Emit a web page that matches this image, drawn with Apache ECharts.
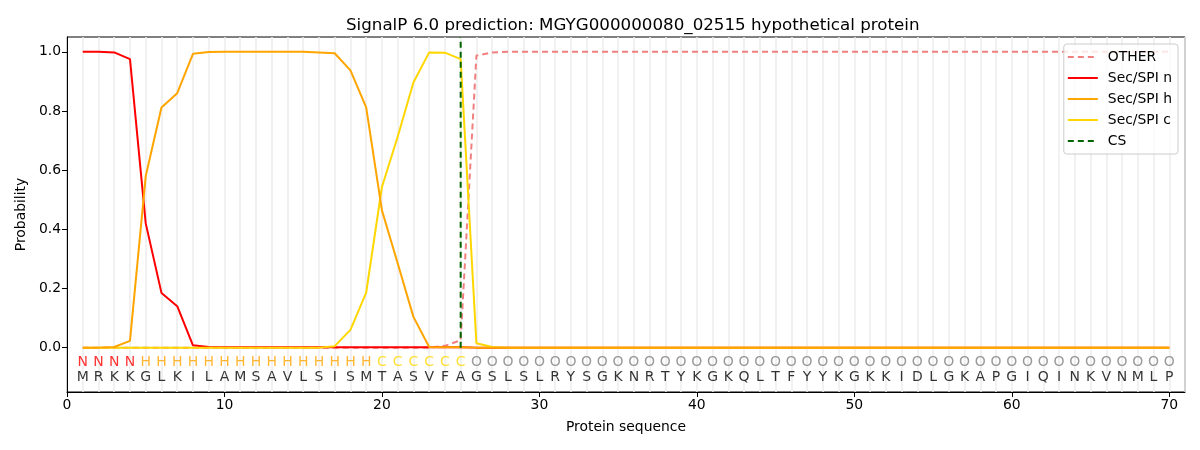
<!DOCTYPE html>
<html>
<head>
<meta charset="utf-8">
<script src="https://cdn.jsdelivr.net/npm/echarts@6/dist/echarts.min.js"></script>
<style>html,body{margin:0;padding:0;background:#fff;}#c{width:1200px;height:450px;}</style>
</head>
<body>
<div id="c"></div>
<script>
const sequence = "MRKKGLKILAMSAVLSISMTASVFAGSLSLRYSGKNRTYKGKQLTFYYKGKKIDLGKAPGIQINKVNMLP".split("");
const regionLabels = "NNNNHHHHHHHHHHHHHHHCCCCCCOOOOOOOOOOOOOOOOOOOOOOOOOOOOOOOOOOOOOOOOOOOOO".split("");
const otherProb = [0,0,0,0,0,0,0,0,0,0, 0,0,0,0,0,0,0,0,0,0, 0,0,0,0.006,0.025,0.987,0.998,1,1,1,
  1,1,1,1,1,1,1,1,1,1, 1,1,1,1,1,1,1,1,1,1, 1,1,1,1,1,1,1,1,1,1, 1,1,1,1,1,1,1,1,1,1];
const nProb = [1.0,1.0,0.998,0.975,0.42,0.185,0.14,0.008,0.002,0.001, 0.001,0.001,0.001,0.001,0.001,0.001,0.001,0.001,0.001,0.001, 0.001,0.001,0.001,0.001,0.001,0,0,0,0,0,
  0,0,0,0,0,0,0,0,0,0, 0,0,0,0,0,0,0,0,0,0, 0,0,0,0,0,0,0,0,0,0, 0,0,0,0,0,0,0,0,0,0];
const hProb = [0,0,0.002,0.023,0.58,0.812,0.86,0.993,0.999,1.0, 1.0,1.0,1.0,1.0,1.0,0.998,0.995,0.937,0.812,0.464, 0.285,0.104,0.002,0.001,0.001,0,0,0,0,0,
  0,0,0,0,0,0,0,0,0,0, 0,0,0,0,0,0,0,0,0,0, 0,0,0,0,0,0,0,0,0,0, 0,0,0,0,0,0,0,0,0,0];
const cProb = [0,0,0,0,0,0,0,0,0,0, 0,0,0,0,0,0,0.005,0.06,0.186,0.543, 0.713,0.896,0.998,0.997,0.975,0.015,0.002,0,0,0,
  0,0,0,0,0,0,0,0,0,0, 0,0,0,0,0,0,0,0,0,0, 0,0,0,0,0,0,0,0,0,0, 0,0,0,0,0,0,0,0,0,0];
const csPosition = 25;
const xTicks = [0,10,20,30,40,50,60,70];
const yTicks = [0,0.2,0.4,0.6,0.8,1.0];
const regionRowY = -0.05;
const seqRowY = -0.1;

const regionColors = {N:'#ff0000', H:'#ffa500', C:'#ffd700', O:'#808080'};
const font = 'DejaVu Sans';
const pos = sequence.map((_, i) => i + 1);
const toPts = arr => arr.map((v, i) => [pos[i], v]);

const chart = echarts.init(document.getElementById('c'), null, {renderer:'canvas'});
chart.setOption({
  animation: false,
  backgroundColor: '#fff',
  title: {
    text: 'SignalP 6.0 prediction: MGYG000000080_02515 hypothetical protein',
    left: 341, top: 12,
    textStyle: {fontFamily: font, fontSize: 16.7, fontWeight: 'normal', color: '#000'}
  },
  grid: {left: 67, right: 15, top: 37, bottom: 58, show: true, borderColor: '#000', borderWidth: 1, backgroundColor: 'transparent'},
  legend: {
    orient: 'vertical', right: 22, top: 44,
    data: ['OTHER','Sec/SPI n','Sec/SPI h','Sec/SPI c','CS'],
    itemWidth: 30, itemHeight: 14, itemGap: 7,
    padding: [6, 6, 6, 3],
    borderColor: '#cccccc', borderWidth: 1, borderRadius: 3,
    backgroundColor: 'rgba(255,255,255,0.8)',
    itemStyle: {opacity: 0},
    textStyle: {fontFamily: font, fontSize: 13.9, color: '#000', padding: [0, 0, 0, 5]}
  },
  xAxis: [{
    type: 'value', min: 0, max: 71, name: 'Protein sequence', nameLocation: 'middle', nameGap: 28,
    nameTextStyle: {fontFamily: font, fontSize: 13.9, color: '#000'},
    axisLine: {show: true, onZero: false, lineStyle: {color: '#000'}},
    axisTick: {show: true, length: 5, lineStyle: {color: '#000'}, customValues: xTicks},
    axisLabel: {fontFamily: font, fontSize: 13.9, color: '#000', margin: 6, customValues: xTicks},
    splitLine: {show: false}
  }, {
    type: 'value', min: 0, max: 71, interval: 1, position: 'top', show: true,
    axisLine: {show: false, onZero: false}, axisTick: {show: false}, axisLabel: {show: false},
    splitLine: {show: true, lineStyle: {color: '#ececec', width: 1.5}}
  }],
  yAxis: {
    type: 'value', min: -0.15, max: 1.05, name: 'Probability', nameLocation: 'middle', nameGap: 38,
    nameTextStyle: {fontFamily: font, fontSize: 13.9, color: '#000'},
    axisLine: {show: true, onZero: false, lineStyle: {color: '#000'}},
    axisTick: {show: true, length: 5, lineStyle: {color: '#000'}, customValues: yTicks},
    axisLabel: {fontFamily: font, fontSize: 13.9, color: '#000', margin: 6, customValues: yTicks, formatter: v => v.toFixed(1)},
    splitLine: {show: false}
  },
  series: [
    {name: 'OTHER', type: 'line', data: toPts(otherProb), showSymbol: false, symbol: 'none', z: 2,
      lineStyle: {color: '#f08080', width: 2, type: [6, 4]}, itemStyle: {color: '#f08080'}},
    {name: 'Sec/SPI n', type: 'line', data: toPts(nProb), showSymbol: false, symbol: 'none', z: 3,
      lineStyle: {color: '#ff0000', width: 2}, itemStyle: {color: '#ff0000'}},
    {name: 'Sec/SPI c', type: 'line', data: toPts(cProb), showSymbol: false, symbol: 'none', z: 4,
      lineStyle: {color: '#ffd700', width: 2}, itemStyle: {color: '#ffd700'}},
    {name: 'Sec/SPI h', type: 'line', data: toPts(hProb), showSymbol: false, symbol: 'none', z: 5,
      lineStyle: {color: '#ffa500', width: 2}, itemStyle: {color: '#ffa500'}},
    {name: 'CS', type: 'line', data: [[csPosition, 0], [csPosition, 1.05]], showSymbol: false, symbol: 'none', z: 6,
      lineStyle: {color: '#006400', width: 2, type: [6, 4]}, itemStyle: {color: '#006400'}},
    {name: 'regions', type: 'scatter', symbolSize: 2, itemStyle: {color: 'rgba(0,0,0,0)'}, z: 7, silent: true,
      data: regionLabels.map((l, i) => ({value: [pos[i], regionRowY], label: {color: regionColors[l]}})),
      label: {show: true, position: 'inside', fontFamily: font, fontSize: 14, formatter: p => regionLabels[p.dataIndex]}},
    {name: 'sequence', type: 'scatter', symbolSize: 2, itemStyle: {color: 'rgba(0,0,0,0)'}, z: 7, silent: true,
      data: sequence.map((s, i) => [pos[i], seqRowY]),
      label: {show: true, position: 'inside', fontFamily: font, fontSize: 14, color: '#000', formatter: p => sequence[p.dataIndex]}}
  ]
});
</script>
</body>
</html>
